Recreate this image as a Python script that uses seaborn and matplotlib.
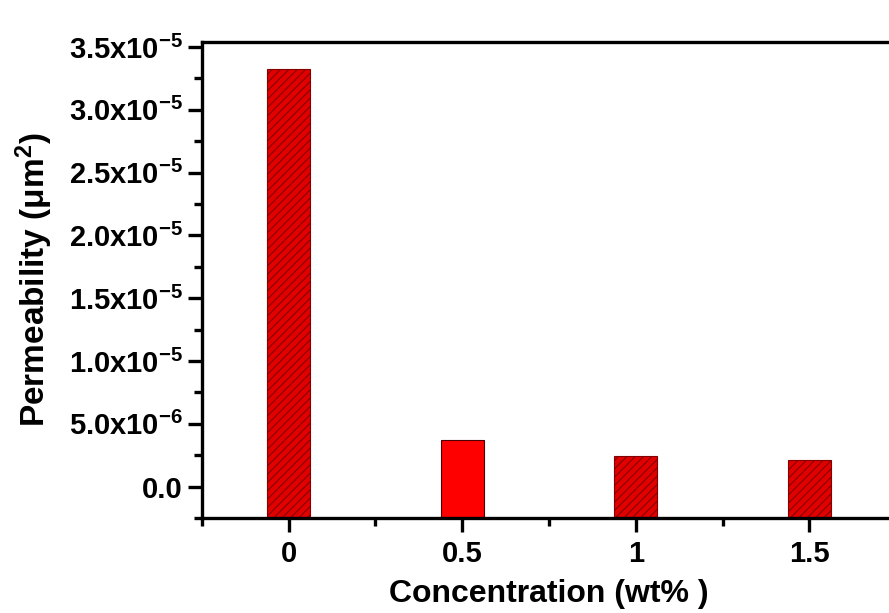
import numpy as np
import pandas as pd
import matplotlib
matplotlib.use("Agg")
import matplotlib.pyplot as plt
from matplotlib.ticker import MultipleLocator, FuncFormatter, FixedLocator
import seaborn as sns

# Data
concentration = ["0", "0.5", "1", "1.5"]
permeability = [3.325e-5, 3.67e-6, 2.46e-6, 2.09e-6]
hatched = [True, False, True, True]

y_min, y_max = -2.5e-6, 3.54e-5

sns.set_style("ticks")
plt.rcParams["font.family"] = ["Liberation Sans", "DejaVu Sans"]
plt.rcParams["font.weight"] = "bold"
plt.rcParams["mathtext.fontset"] = "custom"
plt.rcParams["mathtext.rm"] = "Liberation Sans:bold"
plt.rcParams["mathtext.it"] = "Liberation Sans:bold"
plt.rcParams["mathtext.bf"] = "Liberation Sans:bold"
plt.rcParams["hatch.linewidth"] = 0.8
plt.rcParams["hatch.color"] = "#900000"
for key in ["text.color", "axes.labelcolor", "xtick.color", "ytick.color",
            "axes.edgecolor"]:
    plt.rcParams[key] = "black"


def sci_label(v, pos):
    """Origin style labels like 3.5x10^-5."""
    if abs(v) < 1e-12:
        return "0.0"
    exp = int(np.floor(np.log10(abs(v))))
    mant = v / 10 ** exp
    return f"{mant:.1f}x10$^{{{exp}}}$"


df = pd.DataFrame({"Concentration": concentration,
                   "Permeability": permeability})
# bars start at the bottom of the axis like in the original
df["Height"] = df["Permeability"] - y_min

fig = plt.figure(figsize=(8.89, 6.13), dpi=100)
ax = fig.add_axes([0.2272, 0.155, 0.7807, 0.7765])

palette = {"0": "#e00000", "0.5": "#ff0000", "1": "#e00000", "1.5": "#e00000"}
sns.barplot(data=df, x="Concentration", y="Height", hue="Concentration",
            palette=palette, order=concentration, width=0.25,
            errorbar=None, legend=False, bottom=y_min, ax=ax,
            edgecolor="#4a0000", linewidth=0.8, saturation=1)

for patch, h in zip(ax.patches, hatched):
    if h:
        patch.set_hatch("////")
        patch.set_edgecolor("#850000")

ax.set_xlim(-0.5, 3.5)
ax.set_ylim(y_min, y_max)

ax.yaxis.set_major_locator(MultipleLocator(5e-6))
ax.yaxis.set_minor_locator(MultipleLocator(2.5e-6))
ax.yaxis.set_major_formatter(FuncFormatter(sci_label))
ax.xaxis.set_minor_locator(FixedLocator([-0.5, 0.5, 1.5, 2.5, 3.5]))
ax.yaxis.get_offset_text().set_visible(False)

for side in ["left", "bottom", "top", "right"]:
    ax.spines[side].set_visible(True)
    ax.spines[side].set_linewidth(2.4)
    ax.spines[side].set_color("black")

ax.tick_params(axis="both", which="major", direction="out", length=10,
               width=2.4, color="black")
ax.tick_params(axis="both", which="minor", direction="out", length=5.5,
               width=2.4, color="black")
ax.tick_params(axis="y", which="major", labelsize=21, pad=4)
ax.tick_params(axis="x", which="major", labelsize=21, pad=6)
for lab in ax.get_xticklabels() + ax.get_yticklabels():
    lab.set_fontweight("bold")

ax.set_xlabel("Concentration (wt% )", fontsize=23, fontweight="bold",
              labelpad=8)
ax.set_ylabel("Permeability (μm$^2$)", fontsize=24, fontweight="bold",
              labelpad=10)

fig.savefig("out.png", dpi=100)
